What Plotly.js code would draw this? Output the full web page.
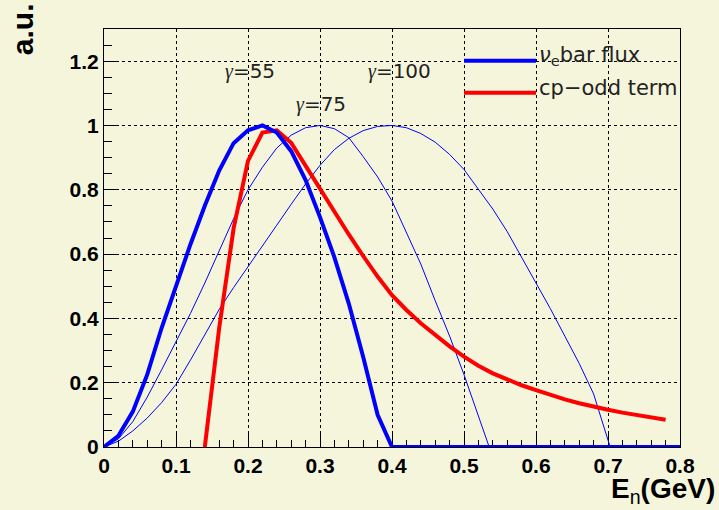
<!DOCTYPE html>
<html>
<head>
<meta charset="utf-8">
<script src="https://cdn.plot.ly/plotly-3.0.1.min.js"></script>
<style>html,body{margin:0;padding:0;background:#f5f5dc;}</style>
</head>
<body>
<div id="chart" style="width:719px;height:510px;"></div>
<script>
// Thick blue: gamma = 55 flux
const E55 = [0,0.02,0.04,0.06,0.08,0.10,0.12,0.14,0.16,0.18,0.20,0.22,0.24,0.26,0.28,0.30,0.32,0.34,0.36,0.38,0.40,0.80];
const F55 = [0,0.035,0.11,0.225,0.37,0.50,0.63,0.75,0.86,0.945,0.985,1.0,0.978,0.92,0.83,0.715,0.59,0.446,0.28,0.10,0,0];

// Red: cp-odd term
const Ecp = [0.14,0.16,0.18,0.20,0.22,0.24,0.26,0.28,0.30,0.32,0.34,0.36,0.38,0.40,0.42,0.44,0.46,0.48,0.50,0.52,0.54,0.56,0.58,0.60,0.62,0.64,0.66,0.68,0.70,0.72,0.74,0.76,0.78];
const CP = [0,0.37,0.68,0.89,0.978,0.985,0.946,0.874,0.80,0.73,0.661,0.594,0.53,0.472,0.426,0.385,0.348,0.313,0.281,0.253,0.229,0.209,0.192,0.177,0.162,0.148,0.136,0.125,0.116,0.107,0.099,0.092,0.085];

// Thin blue: gamma = 75
const E75 = [0,0.02,0.04,0.06,0.08,0.10,0.12,0.14,0.16,0.18,0.20,0.22,0.24,0.26,0.28,0.30,0.32,0.34,0.36,0.38,0.40,0.42,0.44,0.46,0.48,0.50,0.52,0.535];
const F75 = [0,0.025,0.079,0.155,0.24,0.327,0.415,0.51,0.61,0.71,0.80,0.87,0.93,0.97,0.993,1.0,0.99,0.962,0.903,0.84,0.765,0.665,0.569,0.455,0.345,0.225,0.093,0];

// Thin blue: gamma = 100
const E100 = [0,0.02,0.04,0.06,0.08,0.10,0.12,0.14,0.16,0.18,0.20,0.22,0.24,0.26,0.28,0.30,0.32,0.34,0.36,0.38,0.40,0.42,0.44,0.46,0.48,0.50,0.52,0.54,0.56,0.58,0.60,0.62,0.64,0.66,0.68,0.70,0.703];
const F100 = [0,0.018,0.05,0.09,0.138,0.195,0.27,0.35,0.428,0.496,0.562,0.627,0.69,0.755,0.818,0.876,0.925,0.96,0.984,0.997,1.0,0.993,0.975,0.948,0.91,0.863,0.80,0.74,0.67,0.59,0.51,0.43,0.345,0.26,0.165,0.02,0];

const gammaLabels = ["55","75","100"];
const gammaPos = [[0.203,1.17],[0.301,1.068],[0.41,1.17]];
const legendNames = ["<i>ν</i><sub>e</sub>bar flux","cp−odd term"];

const BG = "#f5f5dc";
const traces = [
  {x:E75, y:F75, mode:"lines", line:{color:"#0000ff", width:1}, hoverinfo:"skip"},
  {x:E100, y:F100, mode:"lines", line:{color:"#0000ff", width:1}, hoverinfo:"skip"},
  {x:Ecp, y:CP, mode:"lines", line:{color:"#ff0000", width:4}, name:legendNames[1]},
  {x:E55, y:F55, mode:"lines", line:{color:"#0000ff", width:4}, name:legendNames[0]}
];

const tickFont = {family:"Liberation Sans, Arial, sans-serif", size:21, color:"#000", weight:"bold"};
const axisCommon = {
  showline:true, linecolor:"#000", linewidth:1, mirror:true,
  ticks:"inside", ticklen:15, tickwidth:1, tickcolor:"#000",
  showgrid:true, gridcolor:"#000", griddash:"dot", gridwidth:1,
  zeroline:false, tickfont:tickFont, layer:"below traces"
};

const annotations = gammaLabels.map((g,i)=>({
  x:gammaPos[i][0], y:gammaPos[i][1], xref:"x", yref:"y",
  text:'<span style="font-family:Liberation Serif;font-style:italic">γ</span>=' + g,
  showarrow:false, xanchor:"center", yanchor:"middle",
  font:{family:"DejaVu Sans, sans-serif", size:20, color:"#222"}
}));
annotations.push({
  x:-0.142, y:1.0, xref:"paper", yref:"paper", text:"a.u.", textangle:-90,
  showarrow:false, xanchor:"center", yanchor:"middle",
  font:{family:"Liberation Sans, Arial, sans-serif", size:30, color:"#000", weight:"bold"}
});
annotations.push({
  x:1.064, y:-0.103, xref:"paper", yref:"paper", text:"<b>E</b><sub>n</sub><b>(GeV)</b>",
  showarrow:false, xanchor:"right", yanchor:"middle",
  font:{family:"Liberation Sans, Arial, sans-serif", size:28, color:"#000"}
});
// manual legend
const legY = [0.924, 0.8476];
const legTextY = [0.935, 0.858];
const legColors = ["#0000ff","#ff0000"];
const shapes = [];
legendNames.forEach((n,i)=>{
  shapes.push({type:"line", xref:"paper", yref:"paper", x0:0.625, x1:0.75, y0:legY[i], y1:legY[i],
    line:{color:legColors[i], width:4}});
  annotations.push({x:0.751, y:legTextY[i], xref:"paper", yref:"paper", text:n, showarrow:false,
    xanchor:"left", yanchor:"middle",
    font:{family:"DejaVu Sans, sans-serif", size:21, color:"#222"}});
});

const layout = {
  width:719, height:510,
  margin:{l:104, r:39, t:29, b:63},
  paper_bgcolor:BG, plot_bgcolor:BG,
  showlegend:false,
  xaxis:Object.assign({}, axisCommon, {range:[0,0.8], dtick:0.1, tick0:0,
    minor:{dtick:0.02, ticks:"inside", ticklen:7.5, tickcolor:"#000", showgrid:false}}),
  yaxis:Object.assign({}, axisCommon, {range:[0,1.3], dtick:0.2, tick0:0,
    minor:{dtick:0.05, ticks:"inside", ticklen:7.5, tickcolor:"#000", showgrid:false}}),
  annotations:annotations,
  shapes:shapes
};
Plotly.newPlot("chart", traces, layout, {displayModeBar:false, staticPlot:true});
</script>
</body>
</html>
